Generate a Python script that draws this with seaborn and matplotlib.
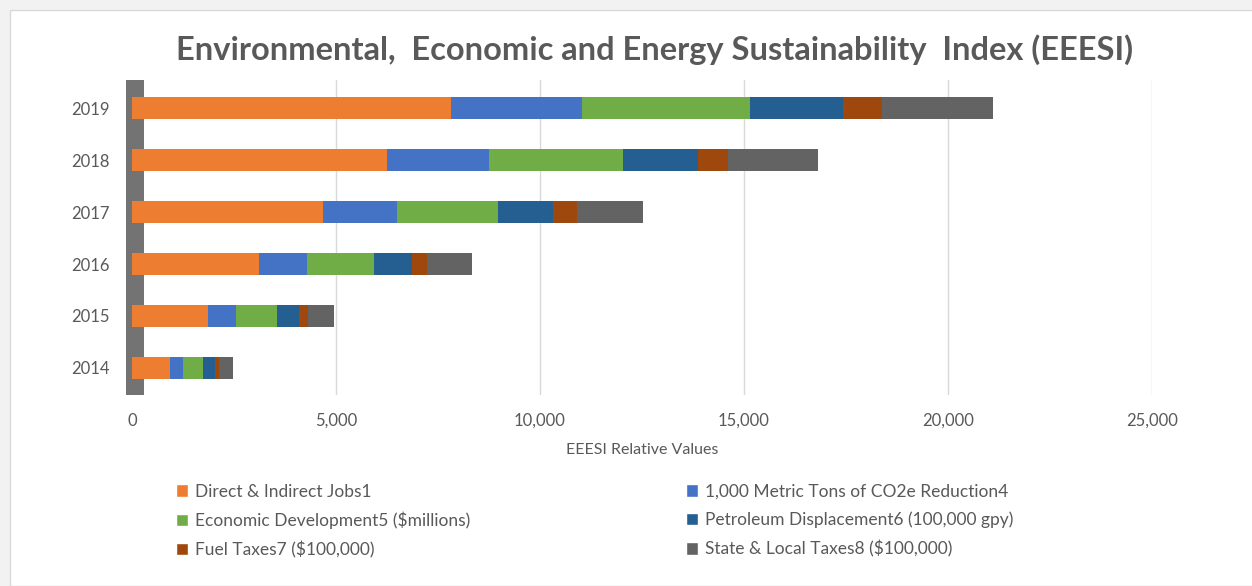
import numpy as np
import pandas as pd
import matplotlib
matplotlib.use("Agg")
import matplotlib.pyplot as plt
from matplotlib.patches import Rectangle, Patch
import seaborn as sns

years = ["2019", "2018", "2017", "2016", "2015", "2014"]
series = [
    "Direct & Indirect Jobs1",
    "1,000 Metric Tons of CO2e Reduction4",
    "Economic Development5 ($millions)",
    "Petroleum Displacement6 (100,000 gpy)",
    "Fuel Taxes7 ($100,000)",
    "State & Local Taxes8 ($100,000)",
]
jobs = [7820, 6250, 4680, 3110, 1860, 930]
co2 = [3210, 2500, 1810, 1180, 690, 320]
econ_dev = [4120, 3280, 2480, 1640, 1000, 490]
petroleum = [2280, 1840, 1350, 930, 540, 290]
fuel_taxes = [960, 740, 590, 370, 220, 100]
state_taxes = [2720, 2210, 1620, 1100, 640, 340]
colors = ["#ED7D31", "#4472C4", "#70AD47", "#255E91", "#9E480E", "#636363"]

values = [jobs, co2, econ_dev, petroleum, fuel_taxes, state_taxes]
df = pd.DataFrame({s: v for s, v in zip(series, values)})
df["Year"] = years
cum = df[series].cumsum(axis=1)
cum["Year"] = years

sns.set_style("white")
plt.rcParams["font.family"] = ["Lato", "DejaVu Sans"]

fig = plt.figure(figsize=(12.52, 5.86), dpi=100, facecolor="#f2f2f2")
fig.patches.append(Rectangle((10 / 1252, 0), 1, 1 - 10 / 586, transform=fig.transFigure,
                             facecolor="white", edgecolor="#d9d9d9", lw=1, zorder=-5))
ax = fig.add_axes([132 / 1252, 1 - 395 / 586, 1020 / 1252, 315 / 586])
ax.set_facecolor("none")

# draw cumulative totals widest first so the segments appear stacked
for s, c in reversed(list(zip(series, colors))):
    sns.barplot(data=cum, y="Year", x=s, color=c, orient="h", width=0.42,
                saturation=1, linewidth=0, ax=ax, zorder=3)

ax.set_xlim(0, 25000)
ax.set_ylim(5.52, -0.54)
ax.set_xticks(np.arange(0, 25001, 5000))
ax.set_xticklabels([f"{t:,}" for t in range(0, 25001, 5000)])
ax.grid(axis="x", color="#d9d9d9", lw=1, zorder=0)
ax.set_axisbelow(True)
ax.add_patch(Rectangle((-0.006, 0), 0.018, 1, transform=ax.transAxes,
                       facecolor="#737373", edgecolor="none", zorder=1, clip_on=False))
for sp in ax.spines.values():
    sp.set_visible(False)
ax.tick_params(axis="x", length=0, pad=13, labelsize=12, labelcolor="#595959")
ax.tick_params(axis="y", length=0, pad=16, labelsize=12, labelcolor="#595959")
ax.set_ylabel("")
ax.set_xlabel("EEESI Relative Values", fontsize=11.5, color="#595959", labelpad=10)

fig.suptitle("Environmental,  Economic and Energy Sustainability  Index (EEESI)",
             x=0.523, y=1 - 50 / 586, va="center", fontsize=23.5, fontweight="bold",
             color="#595959")

handles = [Patch(facecolor=c, label=s) for s, c in zip(series, colors)]
leg_kw = dict(frameon=False, fontsize=12.5, handlelength=0.7, handleheight=0.7,
              handletextpad=0.4, labelspacing=0.7, loc="upper left",
              labelcolor="#595959")
fig.legend(handles=handles[0::2], bbox_to_anchor=(160 / 1252, 1 - 468 / 586), **leg_kw)
fig.legend(handles=handles[1::2], bbox_to_anchor=(670 / 1252, 1 - 468 / 586), **leg_kw)

fig.savefig("out.png", dpi=100, facecolor=fig.get_facecolor())
